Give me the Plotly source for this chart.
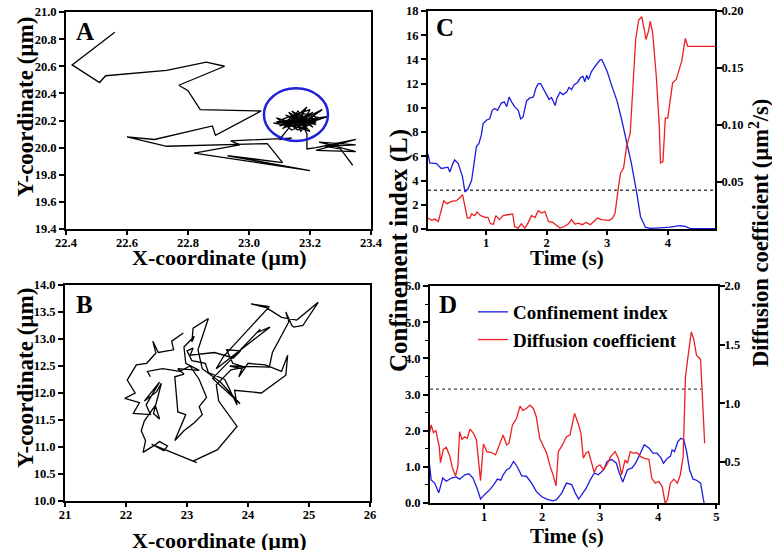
import plotly.graph_objects as go

# ---------------- data ----------------
# Panel A trajectory (um)
a_x = [22.56, 22.42, 22.51, 22.53, 22.73, 22.86, 22.92, 22.77, 22.80, 22.84, 23.04, 22.89, 22.88, 22.69,
       22.60, 22.73, 23.06, 23.11, 22.93, 23.20, 22.82, 22.97, 22.94, 23.14,
       23.10, 23.14, 23.09, 23.18, 23.12, 23.21, 23.15, 23.08, 23.19, 23.13, 23.22, 23.16, 23.11, 23.20,
       23.17, 23.09, 23.14, 23.23, 23.18, 23.12, 23.20, 23.15, 23.10, 23.19, 23.24, 23.16, 23.13, 23.21,
       23.17, 23.11, 23.19, 23.15, 23.22, 23.14, 23.26, 23.18, 23.12, 23.20, 23.16, 23.13, 23.21, 23.17,
       23.15, 23.19, 23.14, 23.22, 23.17, 23.19, 23.19,
       23.19, 23.22, 23.35, 23.22, 23.35, 23.23, 23.35, 23.25, 23.30, 23.34]
a_y = [20.85, 20.61, 20.48, 20.53, 20.57, 20.63, 20.60, 20.46, 20.42, 20.28, 20.27, 20.09, 20.16, 20.06,
       20.08, 20.01, 20.03, 19.89, 19.94, 19.83, 19.96, 20.02, 20.05, 20.07,
       20.06, 20.17, 20.19, 20.22, 20.15, 20.26, 20.20, 20.18, 20.14, 20.23, 20.19, 20.13, 20.21, 20.28,
       20.16, 20.22, 20.13, 20.22, 20.25, 20.18, 20.12, 20.24, 20.16, 20.20, 20.28, 20.19, 20.26, 20.15,
       20.22, 20.14, 20.30, 20.16, 20.21, 20.19, 20.23, 20.17, 20.24, 20.18, 20.27, 20.15, 20.23, 20.12,
       20.21, 20.16, 20.27, 20.17, 20.20, 20.10, 20.06,
       19.99, 20.00, 20.06, 19.98, 19.97, 20.04, 20.02, 20.01, 19.99, 19.87]
# confinement zone ellipse (um)
zone_cx, zone_cy, zone_rx, zone_ry = 23.154, 20.243, 0.105, 0.194

# Panel B trajectory (um)
b_x = [22.94, 22.75, 22.78, 22.53, 22.44, 22.49, 22.34, 22.17, 22.02, 22.15, 21.98, 22.22, 22.12, 22.40,
       22.33, 22.55, 22.30, 22.50, 22.58, 22.45, 22.55, 22.48, 22.30, 22.25, 22.32, 22.28, 22.45, 22.55,
       22.68, 22.62, 22.42, 22.60, 22.75, 23.16, 23.10, 23.50, 23.82, 23.52, 23.48, 23.72, 23.95, 23.75,
       23.65, 23.88, 23.76, 23.45, 23.05, 23.10, 23.00, 23.08, 23.30, 23.35, 23.62, 23.82, 23.78, 24.22,
       24.62, 24.65, 24.55, 24.28, 24.00, 23.85, 23.90, 23.70, 24.35, 24.40, 24.67, 24.62, 24.72, 24.75,
       24.90, 25.15, 24.80, 24.55, 24.30, 24.05, 24.35, 23.78, 23.60, 23.48, 24.36, 24.15, 24.20, 23.42,
       23.87, 23.55, 23.25, 23.18, 23.35, 23.10, 23.08, 23.12, 22.95, 22.98, 23.20, 22.85, 22.95, 22.80,
       22.85, 22.98, 22.80, 22.95, 23.12, 23.25, 23.20, 23.32, 23.20, 23.05, 22.88, 22.60, 22.35, 22.40]
b_y = [13.11, 12.96, 12.80, 12.75, 12.96, 12.74, 12.55, 12.52, 12.24, 12.00, 11.90, 11.82, 11.62, 11.60,
       11.78, 12.20, 11.85, 12.02, 12.18, 11.62, 11.52, 11.77, 11.48, 11.30, 11.12, 10.90, 11.02, 11.10,
       11.02, 10.93, 11.05, 10.96, 10.90, 10.71, 10.74, 10.95, 11.38, 11.85, 12.15, 12.43, 12.48, 12.55,
       12.80, 12.78, 12.65, 12.75, 12.70, 12.83, 12.78, 12.60, 12.55, 12.38, 12.25, 11.78, 12.05, 12.00,
       12.33, 12.70, 12.40, 12.52, 12.55, 12.30, 12.45, 12.50, 12.48, 12.75, 13.32, 13.50, 13.25, 13.22,
       13.25, 13.68, 13.35, 13.40, 13.58, 13.65, 13.60, 12.90, 12.68, 12.45, 13.22, 13.12, 13.18, 12.27,
       11.80, 12.20, 12.45, 12.80, 13.38, 13.20, 12.95, 13.05, 12.85, 12.55, 12.42, 12.45, 12.35, 12.30,
       11.65, 11.60, 11.12, 11.30, 11.45, 11.60, 11.75, 11.92, 12.25, 12.50, 12.40, 12.45, 12.40, 12.30]

# Panel C: confinement index (L) and diffusion coefficient (um^2/s) vs time (s)
c_t_ci = [0.04, 0.07, 0.18, 0.26, 0.37, 0.40, 0.45, 0.48, 0.54, 0.56, 0.61, 0.65, 0.70, 0.76, 0.81, 0.84,
          0.88, 0.92, 0.95, 1.01, 1.06, 1.10, 1.14, 1.19, 1.25, 1.30, 1.34, 1.38, 1.42, 1.47, 1.53, 1.57,
          1.61, 1.67, 1.72, 1.78, 1.82, 1.86, 1.90, 1.94, 2.00, 2.04, 2.08, 2.14, 2.17, 2.22, 2.27, 2.33,
          2.37, 2.41, 2.45, 2.51, 2.56, 2.60, 2.63, 2.66, 2.69, 2.74, 2.81, 2.88, 2.91, 2.94, 3.00, 3.07,
          3.16, 3.24, 3.32, 3.40, 3.49, 3.55, 3.63, 3.71, 3.87, 4.04, 4.20, 4.29, 4.37, 4.78]
c_ci = [6.2, 5.46, 5.4, 5.0, 5.1, 4.7, 5.4, 5.7, 5.4, 5.1, 4.3, 3.06, 3.3, 4.0, 5.7, 6.8,
        7.05, 7.75, 8.7, 9.0, 9.1, 9.8, 9.95, 9.8, 10.4, 10.5, 10.1, 10.9, 10.5, 10.1, 9.8, 9.1,
        9.25, 10.6, 10.8, 10.9, 11.6, 12.0, 12.0, 11.6, 11.05, 10.7, 10.85, 10.2, 10.8, 11.3, 11.1, 11.3,
        11.7, 11.5, 11.9, 12.1, 12.5, 12.6, 12.15, 12.7, 12.35, 13.0, 13.5, 13.95, 14.0, 13.7, 13.0, 11.9,
        10.6, 9.0, 7.3, 5.4, 2.9, 1.0, 0.15, 0.05, 0.1, 0.15, 0.27, 0.22, 0.03, 0.03]
c_t_dc = [0.04, 0.10, 0.15, 0.21, 0.30, 0.35, 0.43, 0.51, 0.56, 0.61, 0.65, 0.69, 0.73, 0.76, 0.81, 0.85,
          0.91, 0.98, 1.03, 1.07, 1.12, 1.16, 1.22, 1.28, 1.36, 1.44, 1.47, 1.53, 1.58, 1.64, 1.69, 1.75,
          1.81, 1.86, 1.92, 1.97, 2.03, 2.10, 2.17, 2.22, 2.29, 2.36, 2.41, 2.47, 2.52, 2.59, 2.65, 2.72,
          2.77, 2.84, 2.90, 2.96, 3.04, 3.09, 3.13, 3.18, 3.22, 3.27, 3.32, 3.38, 3.43, 3.47, 3.52, 3.57,
          3.61, 3.64, 3.68, 3.71, 3.75, 3.81, 3.86, 3.88, 3.92, 3.96, 4.00, 4.04, 4.08, 4.14, 4.18, 4.23,
          4.29, 4.33, 4.78]
c_dc = [0.0184, 0.0164, 0.0175, 0.0155, 0.0336, 0.031, 0.033, 0.0336, 0.036, 0.039, 0.0287, 0.0184, 0.0184,
        0.022, 0.0205, 0.0237, 0.0205, 0.019, 0.019, 0.0134, 0.013, 0.0205, 0.017, 0.0205, 0.0213, 0.022,
        0.011, 0.0096, 0.0134, 0.0096, 0.014, 0.0205, 0.019, 0.0248, 0.0228, 0.0243, 0.0155, 0.0146, 0.0117,
        0.0096, 0.011, 0.0134, 0.017, 0.013, 0.014, 0.0126, 0.0146, 0.0126, 0.015, 0.0184, 0.017, 0.017,
        0.0164, 0.0184, 0.0228, 0.0433, 0.058, 0.0623, 0.0813, 0.093, 0.134, 0.175, 0.192, 0.195, 0.184,
        0.175, 0.182, 0.191, 0.181, 0.143, 0.0988, 0.0667, 0.068, 0.106, 0.106, 0.121, 0.137, 0.14, 0.148,
        0.156, 0.176, 0.169, 0.169]
c_threshold = 3.2

# Panel D
d_t_ci = [0.06, 0.09, 0.15, 0.22, 0.29, 0.35, 0.44, 0.52, 0.58, 0.67, 0.74, 0.81, 0.88, 0.94, 1.01, 1.10,
          1.17, 1.23, 1.29, 1.33, 1.39, 1.44, 1.51, 1.57, 1.65, 1.73, 1.82, 1.90, 1.99, 2.08, 2.18, 2.25,
          2.34, 2.42, 2.51, 2.57, 2.63, 2.68, 2.76, 2.83, 2.90, 2.97, 3.06, 3.12, 3.20, 3.28, 3.33, 3.39,
          3.43, 3.47, 3.55, 3.61, 3.68, 3.76, 3.84, 3.91, 3.98, 4.05, 4.09, 4.16, 4.21, 4.24, 4.28, 4.34,
          4.39, 4.44, 4.49, 4.54, 4.60, 4.66, 4.73, 4.79]
d_ci = [1.1, 0.64, 0.55, 0.28, 0.69, 0.6, 0.69, 0.72, 0.66, 0.78, 0.81, 0.69, 0.41, 0.11, 0.23, 0.37,
        0.51, 0.66, 0.63, 0.78, 0.92, 0.96, 1.15, 1.01, 0.75, 0.74, 0.55, 0.32, 0.18, 0.11, 0.06, 0.09,
        0.28, 0.55, 0.51, 0.28, 0.11, 0.23, 0.41, 0.64, 0.83, 0.78, 0.92, 1.15, 1.2, 1.1, 0.83, 0.58,
        0.78, 0.92, 0.97, 1.1, 1.33, 1.61, 1.52, 1.38, 1.38, 1.24, 1.1, 1.24, 1.29, 1.47, 1.42, 1.7,
        1.79, 1.75, 1.42, 0.92, 0.66, 0.63, 0.55, 0.0]
d_t_dc = [0.06, 0.09, 0.13, 0.17, 0.23, 0.25, 0.30, 0.35, 0.41, 0.45, 0.51, 0.55, 0.58, 0.62, 0.67, 0.71,
          0.76, 0.82, 0.87, 0.91, 0.94, 0.99, 1.05, 1.13, 1.20, 1.27, 1.33, 1.39, 1.43, 1.49, 1.56, 1.62,
          1.67, 1.73, 1.79, 1.85, 1.90, 1.96, 2.02, 2.08, 2.14, 2.19, 2.24, 2.28, 2.35, 2.42, 2.48, 2.53,
          2.56, 2.62, 2.67, 2.71, 2.76, 2.80, 2.86, 2.90, 2.94, 3.00, 3.06, 3.13, 3.18, 3.26, 3.32, 3.37,
          3.43, 3.47, 3.52, 3.58, 3.63, 3.70, 3.76, 3.84, 3.89, 3.95, 4.01, 4.07, 4.12, 4.16, 4.21, 4.27,
          4.33, 4.38, 4.43, 4.47, 4.52, 4.57, 4.61, 4.66, 4.73, 4.78, 4.80]
d_dc = [0.744, 0.815, 0.75, 0.767, 0.63, 0.494, 0.608, 0.625, 0.551, 0.46, 0.381, 0.46, 0.758, 0.693,
        0.715, 0.70, 0.78, 0.744, 0.687, 0.474, 0.341, 0.653, 0.588, 0.58, 0.56, 0.653, 0.73, 0.645, 0.66,
        0.815, 0.87, 0.976, 0.94, 0.956, 0.985, 0.956, 0.886, 0.70, 0.63, 0.574, 0.46, 0.39, 0.296, 0.588,
        0.645, 0.715, 0.73, 0.843, 0.914, 0.83, 0.744, 0.531, 0.579, 0.588, 0.489, 0.409, 0.46, 0.474,
        0.432, 0.489, 0.545, 0.588, 0.523, 0.389, 0.517, 0.489, 0.588, 0.574, 0.58, 0.545, 0.531, 0.523,
        0.361, 0.319, 0.333, 0.29, 0.148, 0.177, 0.319, 0.353, 0.319, 0.389, 0.545, 1.226, 1.424, 1.608,
        1.552, 1.41, 1.373, 0.942, 0.659]
d_threshold = 3.15
d_threshold_t = [0.07, 4.75]

# ---------------- styling ----------------
SERIF = "Liberation Serif"
BLUE = "#1c1ce0"
RED = "#ec2020"
LW = 1.3

fig = go.Figure()

fig.add_trace(go.Scatter(x=a_x, y=a_y, mode="lines", line=dict(color="black", width=LW),
                         xaxis="x", yaxis="y", showlegend=False))
fig.add_trace(go.Scatter(x=b_x, y=b_y, mode="lines", line=dict(color="black", width=LW),
                         xaxis="x2", yaxis="y2", showlegend=False))

# C
fig.add_trace(go.Scatter(x=[c_t_ci[0], c_t_ci[-1]], y=[c_threshold, c_threshold], mode="lines",
                         line=dict(color="#444444", width=1.4, dash="dot"),
                         xaxis="x3", yaxis="y3", showlegend=False))
fig.add_trace(go.Scatter(x=c_t_ci, y=c_ci, mode="lines", line=dict(color=BLUE, width=LW),
                         xaxis="x3", yaxis="y3", showlegend=False))
fig.add_trace(go.Scatter(x=c_t_dc, y=c_dc, mode="lines", line=dict(color=RED, width=LW),
                         xaxis="x3", yaxis="y4", showlegend=False))
# D
fig.add_trace(go.Scatter(x=d_threshold_t, y=[d_threshold, d_threshold], mode="lines",
                         line=dict(color="#444444", width=1.4, dash="dot"),
                         xaxis="x4", yaxis="y5", showlegend=False))
fig.add_trace(go.Scatter(x=d_t_ci, y=d_ci, mode="lines", line=dict(color=BLUE, width=LW),
                         xaxis="x4", yaxis="y5", name="Confinement index", showlegend=True))
fig.add_trace(go.Scatter(x=d_t_dc, y=d_dc, mode="lines", line=dict(color=RED, width=LW),
                         xaxis="x4", yaxis="y6", name="Diffusion coefficient", showlegend=True))

tickfont = dict(family=SERIF, size=12.5, color="black", weight="bold")
common = dict(showline=True, linecolor="black", linewidth=2, ticks="outside", ticklen=5,
              tickwidth=1.5, tickcolor="black", tickfont=tickfont, showgrid=False, zeroline=False,
              automargin=False)
xcommon = dict(common, ticklen=4, ticklabelstandoff=-3)
rcommon = dict(common, ticklabelstandoff=-3)

W, H = 772, 550
def dx(a, b):
    return [a / W, b / W]
def dy(top, bottom):
    return [1 - bottom / H, 1 - top / H]

fig.update_layout(
    width=W, height=H, autosize=False,
    margin=dict(l=0, r=0, t=0, b=0, autoexpand=False),
    paper_bgcolor="white", plot_bgcolor="white",
    xaxis=dict(domain=dx(66, 371), range=[22.4, 23.4], dtick=0.2, tickformat=".1f",
               anchor="y", mirror=True, **xcommon),
    yaxis=dict(domain=dy(12, 229), range=[19.4, 21.0], dtick=0.2, tickformat=".1f",
               anchor="x", mirror=True, **common),
    xaxis2=dict(domain=dx(65, 370), range=[21, 26], dtick=1, anchor="y2", mirror=True, **xcommon),
    yaxis2=dict(domain=dy(285, 501), range=[10, 14], dtick=0.5, tickformat=".1f",
                anchor="x2", mirror=True, **common),
    xaxis3=dict(domain=dx(428, 715), range=[0.04, 4.78], tickvals=[1, 2, 3, 4],
                anchor="y3", mirror=True, **xcommon),
    yaxis3=dict(domain=dy(11, 229), range=[0, 18], dtick=2, anchor="x3", **common),
    yaxis4=dict(range=[0.0088, 0.2], tickvals=[0.05, 0.10, 0.15, 0.20], tickformat=".2f",
                overlaying="y3", side="right", anchor="x3", **rcommon),
    xaxis4=dict(domain=dx(430, 718), range=[0.07, 5.03], tickvals=[1, 2, 3, 4, 5],
                anchor="y5", mirror=True, **xcommon),
    yaxis5=dict(domain=dy(286, 503), range=[0, 6], dtick=1, tickformat=".1f", anchor="x4",
                minor=dict(dtick=0.5, ticks="outside", ticklen=3, tickwidth=1.2, tickcolor="black"),
                **common),
    yaxis6=dict(range=[0.15, 2.0], tickvals=[0.5, 1.0, 1.5, 2.0], tickformat=".1f",
                overlaying="y5", side="right", anchor="x4", **rcommon),
    legend=dict(x=473 / W, y=1 - 293 / H, xanchor="left", yanchor="top",
                font=dict(family=SERIF, size=19, color="black", weight="bold"),
                bgcolor="rgba(0,0,0,0)", borderwidth=0, itemwidth=30, tracegroupgap=0),
    shapes=[dict(type="circle", xref="x", yref="y",
                 x0=zone_cx - zone_rx, x1=zone_cx + zone_rx,
                 y0=zone_cy - zone_ry, y1=zone_cy + zone_ry,
                 line=dict(color="#2020d8", width=2.5))],
)

def ann(text, x, y, size, angle=0, xanchor="center", yanchor="middle"):
    fig.add_annotation(text=text, x=x / W, y=1 - y / H, xref="paper", yref="paper",
                       showarrow=False, textangle=angle, xanchor=xanchor, yanchor=yanchor,
                       font=dict(family=SERIF, size=size, color="black", weight="bold"))

# panel letters
ann("A", 74, 31, 25, xanchor="left")
ann("B", 74, 304, 25, xanchor="left")
ann("C", 434, 28, 25, xanchor="left")
ann("D", 437, 304, 25, xanchor="left")
# axis titles
ann("X-coordinate (µm)", 219, 257, 22)
ann("Y-coordinate (µm)", 25, 107, 23, angle=-90)
ann("X-coordinate (µm)", 219, 540, 22)
ann("Y-coordinate (µm)", 25, 378, 23, angle=-90)
ann("Time (s)", 567, 258, 21)
ann("Time (s)", 567, 536, 21)
ann("Confinement index (L)", 399, 250, 25, angle=-90)
ann("Diffusion coefficient (µm<sup>2</sup>/s)", 759, 233, 22.5, angle=-90)

fig.write_html("out.html", config={"displayModeBar": False},
               post_script="document.body.style.margin='0px';document.body.style.overflow='hidden';")
